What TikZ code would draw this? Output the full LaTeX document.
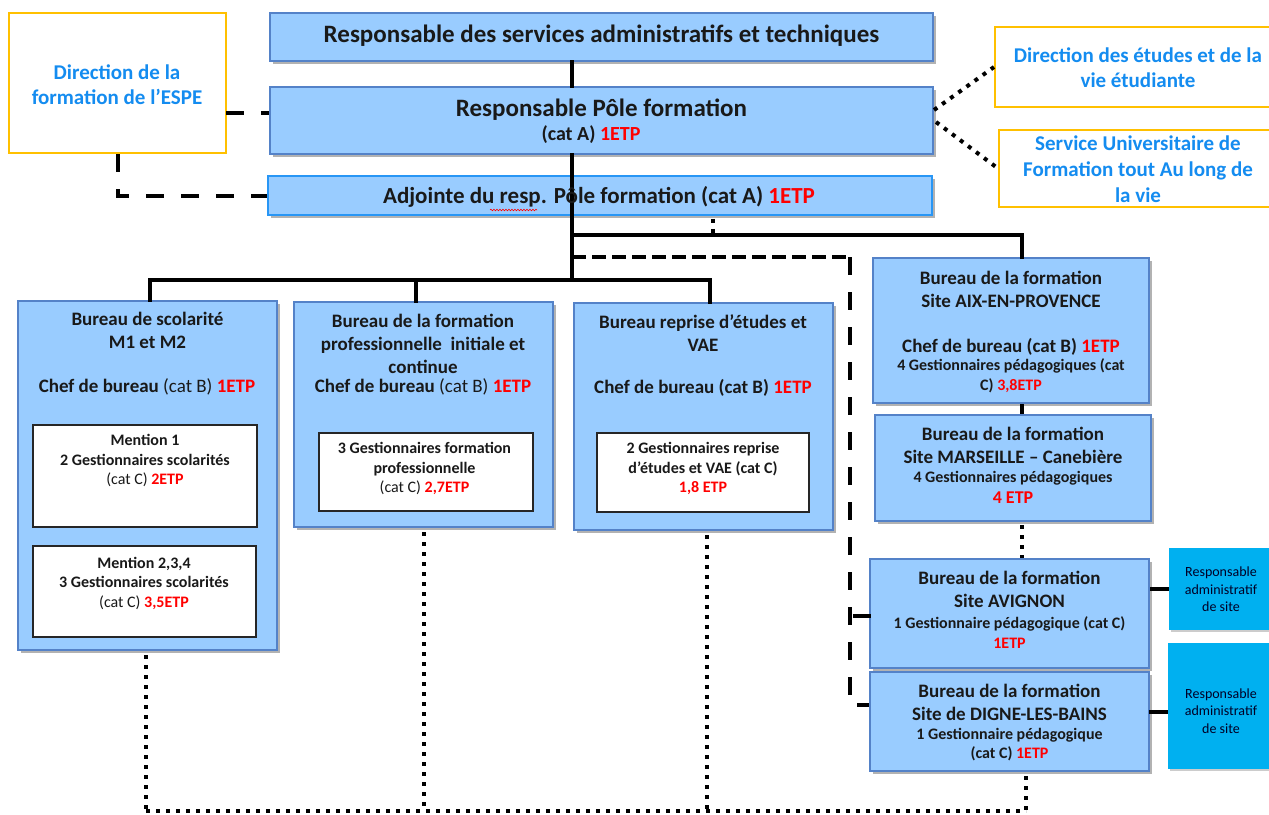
\documentclass[tikz,border=0pt]{standalone}
\usepackage{fontspec}
\setmainfont{Carlito}
\usetikzlibrary{shadows,decorations.pathmorphing}
\definecolor{boxfill}{RGB}{153,204,255}
\definecolor{boxedge}{RGB}{84,130,200}
\definecolor{adjedge}{RGB}{40,150,245}
\definecolor{ybord}{RGB}{255,192,0}
\definecolor{ytext}{RGB}{20,140,240}
\definecolor{etpred}{RGB}{255,0,0}
\definecolor{cyanfill}{RGB}{0,176,240}
\definecolor{txt}{RGB}{25,25,25}
\newcommand{\myfs}[2]{\fontsize{#1}{#2}\selectfont}
\newcommand{\etp}[1]{\textcolor{etpred}{#1}}
\newcommand{\rg}[1]{{\mdseries #1}}
\begin{document}
\begin{tikzpicture}[x=1pt,y=-1pt,
  bluebox/.style={rectangle, draw=boxedge, line width=2pt, fill=boxfill, inner sep=0,
    drop shadow={shadow xshift=2.5pt, shadow yshift=-3pt, fill=black, opacity=0.3}},
  adjbox/.style={bluebox, draw=adjedge, line width=1.5pt},
  whitebox/.style={rectangle, draw=black!85, line width=1.3pt, fill=white, inner sep=0},
  yellowbox/.style={rectangle, draw=ybord, line width=2pt, fill=white, inner sep=0},
  cyanbox/.style={rectangle, fill=cyanfill, inner sep=0,
    drop shadow={shadow xshift=2pt, shadow yshift=-2pt, fill=black, opacity=0.2}},
  lbl/.style={inner sep=0, align=center, text=txt, font=\bfseries},
  tA/.style={lbl, font=\bfseries\myfs{25}{28}},
  tB/.style={lbl, font=\bfseries\myfs{21}{25}},
  tC/.style={lbl, font=\bfseries\myfs{19}{23}},
  tD/.style={lbl, font=\bfseries\myfs{16}{19.5}},
  tE/.style={lbl, text=black!85!blue, font=\myfs{14}{17.5}},
  ylbl/.style={lbl, text=ytext, font=\bfseries\myfs{21}{25}},
  solidc/.style={line width=4pt, line cap=rect},
  dashc/.style={line width=4pt, dash pattern=on 18pt off 17pt},
  sdashc/.style={line width=4pt, dash pattern=on 14pt off 6pt},
  dotc/.style={line width=4pt, dash pattern=on 4pt off 6pt}]
\useasboundingbox (0,0) rectangle (1269,814);
\clip (0,0) rectangle (1269,814);

% ---- coordinates for connectors
\coordinate (trunk) at (572,280);
\coordinate (bL) at (150,280);
\coordinate (bM) at (416,280);
\coordinate (bR) at (710,280);
\coordinate (hA) at (572,235);
\coordinate (hB) at (1022,235);
\coordinate (dA) at (572,257);
\coordinate (dB) at (850,257);
\coordinate (dC) at (850,705);
\coordinate (dD) at (850,616);
\coordinate (ds) at (713,235);
\coordinate (yd1) at (226,113);
\coordinate (pd1) at (934,110);
\coordinate (pd2) at (936,122);
\coordinate (cyc2) at (1149,712);
\coordinate (vL) at (146,811);
\coordinate (vM) at (424,811);
\coordinate (vR) at (707,811);
\coordinate (vD) at (1026,811);

% ---- connectors drawn first (behind boxes)
\draw[solidc] (bL) -- (bR);
\draw[solidc] (hA) -- (hB);
\draw[sdashc] (dA) -- (dB);
\draw[dashc] (dB) -- (dC) -- ++(22,0);
\draw[dotc] (vL) -- (vD);

% ---- boxes
\node[bluebox, minimum width=663pt, minimum height=48pt] (top) at (601.5,37) {};
\node[bluebox, minimum width=663pt, minimum height=67pt] (pole) at (601.5,120.5) {};
\node[adjbox, minimum width=664pt, minimum height=39pt] (adj) at (600,195.5) {};
\node[yellowbox, minimum width=217pt, minimum height=140pt] (ydir) at (117.5,83) {};
\node[yellowbox, minimum width=287pt, minimum height=80pt] (yetu) at (1138.5,67) {};
\node[yellowbox, minimum width=279pt, minimum height=77pt] (ysuf) at (1138.5,168.5) {};
\node[bluebox, minimum width=259pt, minimum height=349pt] (scol) at (147.5,475.5) {};
\node[whitebox, minimum width=224pt, minimum height=102pt] (m1) at (145,476) {};
\node[whitebox, minimum width=223pt, minimum height=91pt] (m2) at (144.5,591.5) {};
\node[bluebox, minimum width=259pt, minimum height=225pt] (fpro) at (423.5,414.5) {};
\node[whitebox, minimum width=214pt, minimum height=78pt] (fproin) at (426,472) {};
\node[bluebox, minimum width=259pt, minimum height=227pt] (rep) at (703.5,416.5) {};
\node[whitebox, minimum width=212pt, minimum height=79pt] (repin) at (703,472.5) {};
\node[bluebox, minimum width=276pt, minimum height=145pt] (aix) at (1011,330.5) {};
\node[bluebox, minimum width=276pt, minimum height=106pt] (mar) at (1013,468) {};
\node[bluebox, minimum width=279pt, minimum height=109pt] (avi) at (1009.5,613.5) {};
\node[bluebox, minimum width=279pt, minimum height=99pt] (dig) at (1009.5,721.5) {};
\node[cyanbox, minimum width=104pt, minimum height=82pt] (cy1) at (1221,589) {};
\node[cyanbox, minimum width=106pt, minimum height=126pt] (cy2) at (1221,706) {};

% ---- connectors between boxes
\draw[solidc] (top.south -| trunk) -- (pole.north -| trunk);
\draw[solidc] (pole.south -| trunk) -- (adj.south -| trunk) -- (trunk);
\draw[solidc] (bL) -- (bL |- scol.north);
\draw[solidc] (bM) -- (bM |- fpro.north);
\draw[solidc] (bR) -- (bR |- rep.north);
\draw[solidc] (hB) -- (hB |- aix.north);
\draw[dotc] (adj.south -| ds) ++(0,3) -- (ds);
\draw[solidc] (dD) ++(5,0) -- (dD -| avi.west);
\draw[dashc] (yd1) -- (yd1 -| pole.west);
\draw[dashc] (ydir.south) -- (ydir.south |- adj.west) -- (adj.west);
\draw[dotc] (pd1) -- (yetu.west);
\draw[dotc] (pd2) -- (ysuf.west);
\draw[solidc, line cap=butt] (hB |- aix.south) -- (hB |- mar.north);
\draw[dotc] (hB |- mar.south) ++(0,3) -- (hB |- avi.north);
\draw[solidc, line cap=butt] (avi.east |- cy1.west) -- (cy1.west);
\draw[solidc, line cap=butt] (cyc2) -- (cyc2 -| cy2.west);
\draw[dotc] (scol.south -| vL) ++(0,4) -- (vL);
\draw[dotc] (fpro.south -| vM) ++(0,4) -- (vM);
\draw[dotc] (rep.south -| vR) ++(0,4) -- (vR);
\draw[dotc] (dig.south -| vD) ++(0,4) -- (vD);

% ---- texts
\node[tA] (ttop) at (601.5,36) {Responsable des services administratifs et techniques};
\node[tA] (tpole1) at (601.5,110) {Responsable Pôle formation};
\node[lbl, font=\bfseries\myfs{20}{24}] (tpole2) at (591,135) {(cat A) \etp{1ETP}};
\node[lbl, font=\bfseries\myfs{23}{26}] (tadj) at (599,197) {Adjointe du resp. Pôle formation (cat A) \etp{1ETP}};
\draw[red, line width=0.6pt, decorate, decoration={snake, amplitude=0.8pt, segment length=3pt}] (490,210) -- (537,210);
\node[ylbl] (tydir) at (117,84.5) {Direction de la\\formation de l’ESPE};
\node[ylbl] (tyetu) at (1138,67.5) {Direction des études et de la\\vie étudiante};
\node[ylbl, font=\bfseries\myfs{21}{26}] (tysuf) at (1138,169) {Service Universitaire de\\Formation tout Au long de\\la vie};

\node[tC] (tscol) at (147.5,330.5) {Bureau de scolarité\\M1 et M2};
\node[tC] (tscolc) at (147,387) {Chef de bureau \rg{(cat B)} \etp{1ETP}};
\node[tD] (tm1) at (145,460.5) {Mention 1\\2 Gestionnaires scolarités\\\rg{(cat C)} \etp{2ETP}};
\node[tD] (tm2) at (144,583) {Mention 2,3,4\\3 Gestionnaires scolarités\\\rg{(cat C)} \etp{3,5ETP}};

\node[tC] (tfpro) at (423,343.6) {Bureau de la formation\\professionnelle\ \ initiale et\\continue};
\node[tC] (tfproc) at (423,387) {Chef de bureau \rg{(cat B)} \etp{1ETP}};
\node[tD] (tfproin) at (424.5,468.5) {3 Gestionnaires formation\\professionnelle\\\rg{(cat C)} \etp{2,7ETP}};

\node[tC] (trep) at (703,333.5) {Bureau reprise d’études et\\VAE};
\node[tC] (trepc) at (703,388) {Chef de bureau (cat B) \etp{1ETP}};
\node[tD] (trepin) at (703,468.7) {2 Gestionnaires reprise\\d’études et VAE (cat C)\\\etp{1,8 ETP}};

\node[tC] (taix) at (1011,289.5) {Bureau de la formation\\Site AIX-EN-PROVENCE};
\node[tC] (taixc) at (1011,347) {Chef de bureau (cat B) \etp{1ETP}};
\node[tD] (taixg) at (1011,376) {4 Gestionnaires pédagogiques (cat\\C) \etp{3,8ETP}};

\node[tC] (tmar) at (1013,445.5) {Bureau de la formation\\Site MARSEILLE – Canebière};
\node[tD] (tmarg) at (1013,478) {4 Gestionnaires pédagogiques};
\node[lbl, font=\bfseries\myfs{18}{20}] (tmare) at (1013,498) {\etp{4 ETP}};

\node[tC] (tavi) at (1009.5,589.5) {Bureau de la formation\\Site AVIGNON};
\node[tD] (tavig) at (1009.5,632.5) {1 Gestionnaire pédagogique (cat C)\\\etp{1ETP}};

\node[tC] (tdig) at (1009.5,702.5) {Bureau de la formation\\Site de DIGNE-LES-BAINS};
\node[tD] (tdigg) at (1009.5,744.5) {1 Gestionnaire pédagogique\\(cat C) \etp{1ETP}};

\node[tE] (tcy1) at (1221,589.3) {Responsable\\administratif\\de site};
\node[tE] (tcy2) at (1221,710.7) {Responsable\\administratif\\de site};
\end{tikzpicture}
\end{document}
